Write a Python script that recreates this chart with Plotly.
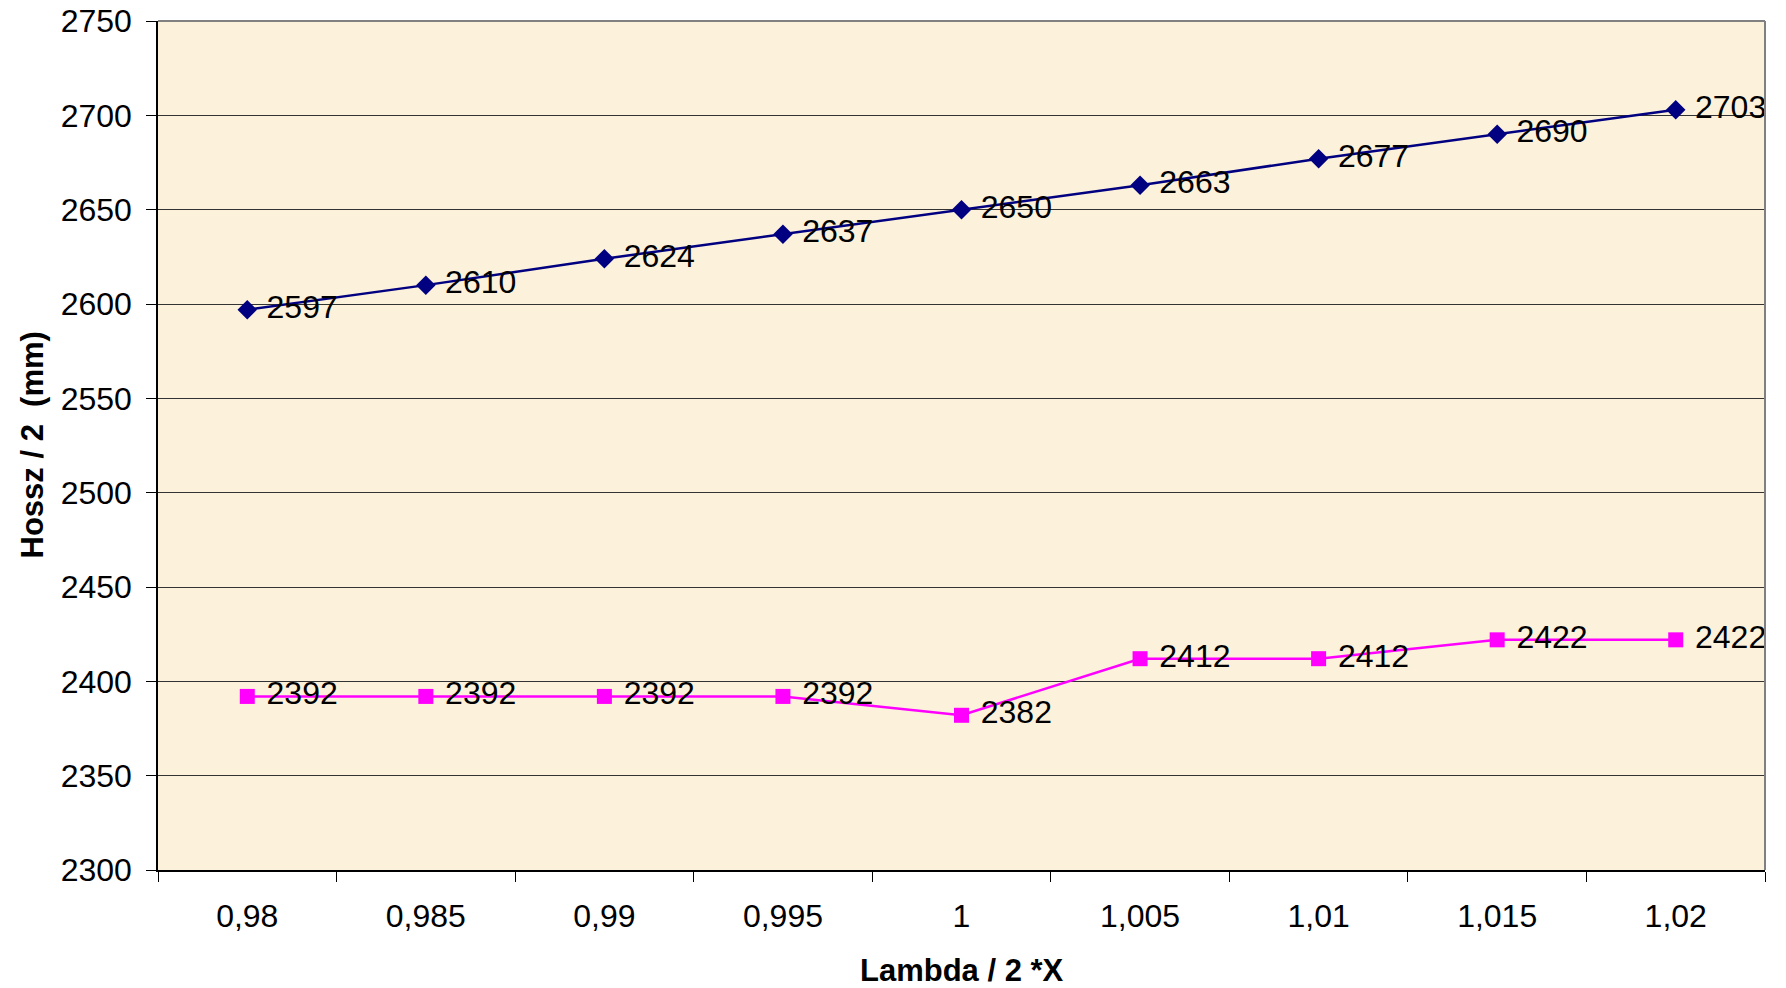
import plotly.graph_objects as go

categories = ["0,98", "0,985", "0,99", "0,995", "1", "1,005", "1,01", "1,015", "1,02"]
series_upper = [2597, 2610, 2624, 2637, 2650, 2663, 2677, 2690, 2703]
series_lower = [2392, 2392, 2392, 2392, 2382, 2412, 2412, 2422, 2422]
y_ticks = [2300, 2350, 2400, 2450, 2500, 2550, 2600, 2650, 2700, 2750]

FONT = "Liberation Sans, Arial, sans-serif"

fig = go.Figure()
fig.add_trace(go.Scatter(
    x=categories, y=series_upper, mode="lines+markers+text",
    line=dict(color="#000080", width=2.5),
    marker=dict(symbol="diamond", size=15, color="#000080"),
    text=[" " + str(v) for v in series_upper], textposition="middle right",
    textfont=dict(family=FONT, size=32, color="black"),
    cliponaxis=False, showlegend=False,
))
fig.add_trace(go.Scatter(
    x=categories, y=series_lower, mode="lines+markers+text",
    line=dict(color="#FF00FF", width=2.5),
    marker=dict(symbol="square", size=15, color="#FF00FF"),
    text=[" " + str(v) for v in series_lower], textposition="middle right",
    textfont=dict(family=FONT, size=32, color="black"),
    cliponaxis=False, showlegend=False,
))

fig.update_layout(
    width=1786, height=988,
    margin=dict(l=158, r=21, t=21, b=118, autoexpand=False),
    paper_bgcolor="white",
    plot_bgcolor="#FCF1DA",
    font=dict(family=FONT, size=32, color="black"),
)
fig.update_xaxes(
    type="category", range=[-0.5, 8.5], automargin=False,
    tickson="boundaries", ticks="outside", ticklen=10, tickcolor="black", tickwidth=1,
    ticklabelstandoff=17, ticklabeloverflow="allow",
    showline=True, linecolor="black", linewidth=1.5, mirror=False,
    showgrid=False, zeroline=False,
)
fig.update_yaxes(
    range=[2300, 2750], tickvals=y_ticks, ticktext=[str(v) for v in y_ticks],
    automargin=False, ticklabeloverflow="allow",
    ticks="outside", ticklen=10, tickcolor="black", tickwidth=1,
    ticklabelstandoff=8,
    showline=True, linecolor="black", linewidth=1.5,
    showgrid=True, gridcolor="#333333", gridwidth=1, zeroline=False,
)
fig.add_annotation(text="<b>Lambda / 2 *X</b>", xref="paper", yref="paper",
                   x=0.5, y=0, yshift=-100, showarrow=False,
                   xanchor="center", yanchor="middle",
                   font=dict(family=FONT, size=31, color="black"))
fig.add_annotation(text="<b>Hossz / 2  (mm)</b>", xref="paper", yref="paper",
                   x=0, y=0.5, xshift=-126, showarrow=False, textangle=-90,
                   xanchor="center", yanchor="middle",
                   font=dict(family=FONT, size=31, color="black"))
# top and right border of plot area
fig.add_shape(type="line", xref="paper", yref="paper", x0=0, x1=1, y0=1, y1=1,
              line=dict(color="#808080", width=2))
fig.add_shape(type="line", xref="paper", yref="paper", x0=1, x1=1, y0=0, y1=1,
              line=dict(color="#808080", width=2))

fig.write_html(
    "out.html",
    config={"displayModeBar": False},
    post_script="document.body.style.margin='0';document.body.style.overflow='hidden';",
)
